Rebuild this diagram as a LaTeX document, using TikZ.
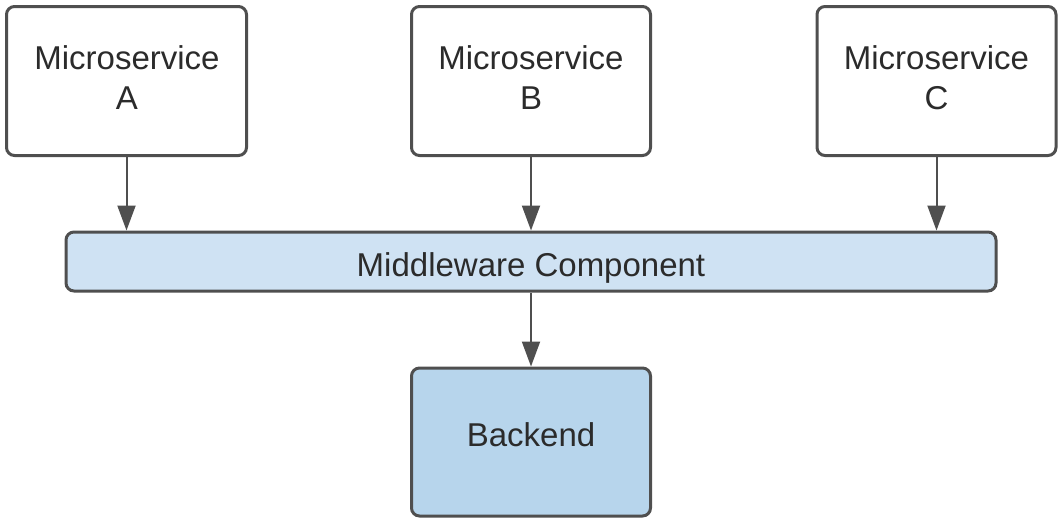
\documentclass[tikz,border=0pt]{standalone}
\usepackage{fontspec}
\setmainfont{Liberation Sans}
\usetikzlibrary{arrows.meta}
\definecolor{edge}{HTML}{4F4F4F}
\definecolor{txt}{HTML}{2B2B2B}
\definecolor{mwfill}{HTML}{CFE2F3}
\definecolor{befill}{HTML}{B7D5EC}
\tikzset{
  box/.style={draw=edge, line width=3pt, rounded corners=8pt, fill=white, inner sep=0pt},
  lbl/.style={text=txt, anchor=base, inner sep=0pt, font=\fontsize{33}{40}\selectfont},
  conn/.style={draw=edge, line width=2pt, -{Triangle[length=25pt,width=18pt]}}
}
\begin{document}
\begin{tikzpicture}[x=1pt,y=-1pt]
\useasboundingbox (0,0) rectangle (1063,523);
\node[box, minimum width=240pt, minimum height=149pt] (A) at (126.5,81) {};
\node[box, minimum width=239pt, minimum height=149pt] (B) at (531,81) {};
\node[box, minimum width=239pt, minimum height=149pt] (C) at (936.5,81) {};
\node[box, fill=mwfill, minimum width=930pt, minimum height=59pt] (M) at (531,261.5) {};
\node[box, fill=befill, minimum width=239pt, minimum height=148pt] (K) at (531,442) {};
\node[lbl] (A1) at (127,69.3) {Microservice};
\node[lbl] (A2) at (127,109.3) {A};
\node[lbl] (B1) at (531,69.3) {Microservice};
\node[lbl] (B2) at (531,109.3) {B};
\node[lbl] (C1) at (936.5,69.3) {Microservice};
\node[lbl] (C2) at (936.5,109.3) {C};
\node[lbl] (Mt) at (531,276.7) {Middleware Component};
\node[lbl] (Kt) at (531,446.7) {Backend};
\draw[conn] (A.south) -- (A.south |- M.north);
\draw[conn] (B.south) -- (B.south |- M.north);
\draw[conn] (C.south) -- (C.south |- M.north);
\draw[conn] (M.south) -- (K.north);
\end{tikzpicture}
\end{document}
